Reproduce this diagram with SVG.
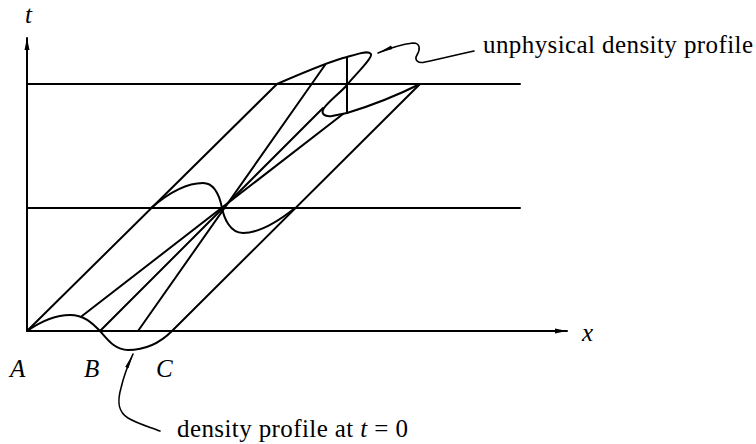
<svg xmlns="http://www.w3.org/2000/svg" width="756" height="444" viewBox="0 0 756 444">
<defs>
<marker id="ax" markerUnits="userSpaceOnUse" markerWidth="14" markerHeight="8" refX="12" refY="4" orient="auto"><path d="M0,1.5 L12,4 L0,6.5 z" fill="#000"/></marker>
<marker id="ld" markerUnits="userSpaceOnUse" markerWidth="16" markerHeight="6" refX="15" refY="3" orient="auto-start-reverse"><path d="M0,1.2 L15,3 L0,4.8 z" fill="#000"/></marker>
</defs>
<style>
.ln{fill:none;stroke:#000;stroke-width:2;stroke-linecap:round;stroke-linejoin:round}
.thin{fill:none;stroke:#000;stroke-width:1.6;stroke-linecap:round}
.tx{font-family:"Liberation Serif","Times New Roman",serif;font-size:25px;fill:#000}
.it{font-style:italic}
</style>
<rect width="756" height="444" fill="#fff"/>
<g id="axes">
<line class="ln" x1="27" y1="331" x2="27" y2="38" marker-end="url(#ax)"/>
<line class="ln" x1="27" y1="331" x2="567" y2="331" marker-end="url(#ax)"/>
<line class="ln" x1="27" y1="84" x2="520" y2="84"/>
<line class="ln" x1="27" y1="208" x2="520" y2="208"/>
</g>
<g id="connectors">
<line class="ln" x1="27" y1="331" x2="277" y2="84"/>
<line class="ln" x1="82" y1="316" x2="343" y2="114"/>
<line class="ln" x1="100" y1="331" x2="323" y2="108"/>
<line class="ln" x1="138" y1="331" x2="325" y2="65"/>
<line class="ln" x1="172" y1="331" x2="420" y2="84"/>
<line class="ln" x1="347" y1="57" x2="347" y2="113"/>
</g>
<g id="profile-t0">
<path class="ln" d="M27,331 C40,322 55,315 70,315 C85,315 93,324 100,331 C108,340 115,350 128,350 C145,350 160,343 172,331"/>
</g>
<g id="profile-mid">
<path class="ln" d="M151,208 C165,196 185,183 203,183 C215,183 220,198 222,208 C224,218 230,233 243,233 C260,233 280,220 295,208"/>
</g>
<g id="profile-unphysical">
<path class="ln" d="M277,84 C300,74 330,61 347,57 C357,54 368,50 371,54 C373,58 353,77 347,85 C340,93 330,100 324,108 C320,114 325,117 332,116 L347,113 C370,106 400,94 420,84"/>
</g>
<g id="leaders">
<path class="thin" d="M378,53 C390,48 405,44 413,43 C421,43 420,50 417,55 C414,60 418,64 425,62 C440,59 460,54 474,51" marker-start="url(#ld)"/>
<path class="thin" d="M133,354 C128,365 124,375 121,388 C117,402 118,412 128,418 C138,424 150,427 160,431" marker-start="url(#ld)"/>
</g>
<g id="labels">
<text class="tx it" x="25" y="23" font-size="24">t</text>
<text class="tx it" x="582" y="341" font-size="24">x</text>
<text class="tx it" x="10" y="377" font-size="24">A</text>
<text class="tx it" x="84" y="377" font-size="24">B</text>
<text class="tx it" x="156" y="377" font-size="24">C</text>
<text class="tx" x="483" y="53" textLength="270" lengthAdjust="spacing">unphysical density profile</text>
<text class="tx" x="177" y="437" textLength="231" lengthAdjust="spacing">density profile at <tspan class="it">t</tspan> = 0</text>
</g>
</svg>
